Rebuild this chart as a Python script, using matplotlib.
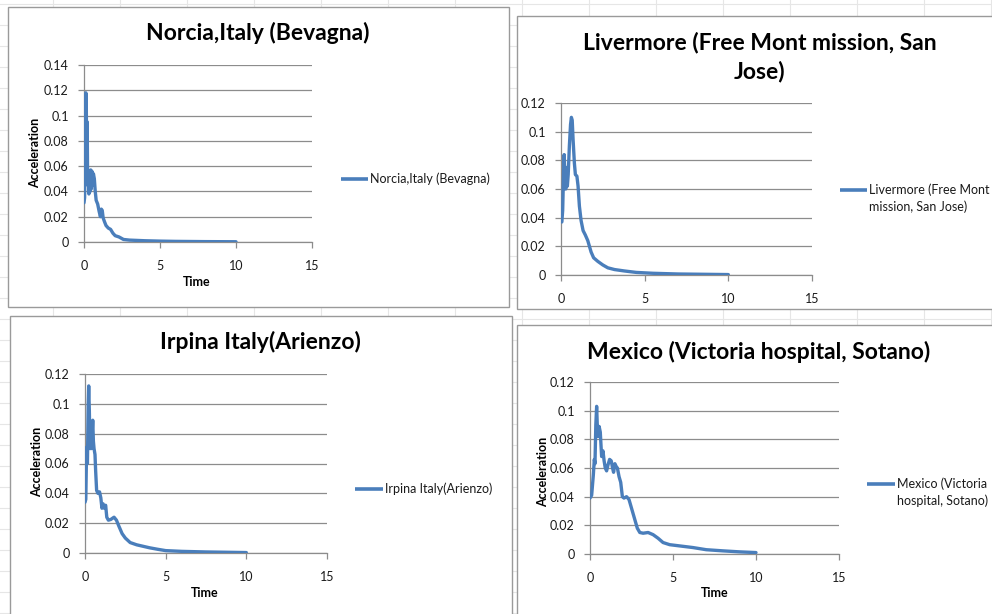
import matplotlib
matplotlib.use("Agg")
import matplotlib.pyplot as plt
from matplotlib.lines import Line2D
from matplotlib.patches import Rectangle
from matplotlib.ticker import FuncFormatter, MultipleLocator

# ---- series data -------------------------------------------------------
time_norcia = [0.00, 0.04, 0.08, 0.12, 0.15, 0.18, 0.21, 0.24, 0.28, 0.32,
               0.36, 0.40, 0.44, 0.48, 0.52, 0.56, 0.62, 0.68, 0.74, 0.80,
               0.90, 1.00, 1.08, 1.14, 1.20, 1.26, 1.35, 1.45, 1.60, 1.75,
               1.90, 2.05, 2.30, 2.60, 3.00, 4.00, 5.00, 6.00, 8.00, 10.0]
acc_norcia = [0.031, 0.035, 0.070, 0.118, 0.110, 0.060, 0.095, 0.045, 0.055, 0.038,
              0.052, 0.040, 0.057, 0.042, 0.056, 0.045, 0.054, 0.050, 0.040, 0.033,
              0.030, 0.024, 0.020, 0.026, 0.025, 0.019, 0.016, 0.013, 0.011, 0.010,
              0.007, 0.005, 0.004, 0.002, 0.0015, 0.001, 0.0007, 0.0005, 0.0003, 0.0002]

time_livermore = [0.00, 0.05, 0.10, 0.15, 0.19, 0.23, 0.28, 0.33, 0.38, 0.43,
                  0.50, 0.57, 0.62, 0.67, 0.72, 0.80, 0.86, 0.95, 1.02, 1.10,
                  1.20, 1.32, 1.45, 1.60, 1.70, 1.80, 1.95, 2.20, 2.50, 2.80,
                  3.20, 3.80, 4.50, 5.50, 7.00, 8.50, 10.0]
acc_livermore = [0.038, 0.037, 0.045, 0.070, 0.084, 0.070, 0.060, 0.075, 0.062, 0.070,
                 0.090, 0.105, 0.110, 0.108, 0.095, 0.078, 0.070, 0.069, 0.062, 0.048,
                 0.038, 0.031, 0.028, 0.024, 0.020, 0.016, 0.012, 0.0095, 0.007, 0.005,
                 0.0038, 0.0028, 0.0018, 0.0012, 0.0007, 0.0005, 0.0003]

time_irpina = [0.00, 0.05, 0.10, 0.15, 0.20, 0.23, 0.27, 0.31, 0.35, 0.39,
               0.44, 0.48, 0.52, 0.56, 0.62, 0.66, 0.72, 0.80, 0.90, 0.98,
               1.05, 1.12, 1.20, 1.28, 1.35, 1.45, 1.60, 1.80, 1.95, 2.10,
               2.30, 2.50, 2.80, 3.20, 3.60, 4.00, 4.50, 5.00, 6.00, 7.50, 10.0]
acc_irpina = [0.034, 0.036, 0.071, 0.060, 0.100, 0.112, 0.095, 0.070, 0.082, 0.070,
              0.080, 0.089, 0.075, 0.070, 0.066, 0.055, 0.042, 0.040, 0.041, 0.037,
              0.030, 0.033, 0.030, 0.032, 0.024, 0.022, 0.0225, 0.024, 0.022, 0.018,
              0.013, 0.010, 0.007, 0.0055, 0.0045, 0.0035, 0.0025, 0.0016, 0.0011, 0.0007, 0.0003]

time_mexico = [0.00, 0.10, 0.20, 0.26, 0.30, 0.35, 0.40, 0.45, 0.50, 0.55,
               0.62, 0.70, 0.78, 0.85, 0.92, 1.00, 1.08, 1.18, 1.28, 1.36,
               1.42, 1.50, 1.58, 1.65, 1.75, 1.85, 1.95, 2.05, 2.20, 2.35,
               2.50, 2.70, 2.85, 3.00, 3.20, 3.50, 3.80, 4.10, 4.40, 4.80,
               5.50, 6.20, 7.00, 8.00, 9.00, 10.0]
acc_mexico = [0.039, 0.041, 0.055, 0.066, 0.063, 0.090, 0.103, 0.086, 0.082, 0.089,
              0.085, 0.068, 0.072, 0.065, 0.060, 0.058, 0.062, 0.066, 0.065, 0.060,
              0.057, 0.063, 0.061, 0.060, 0.054, 0.050, 0.040, 0.039, 0.040, 0.038,
              0.032, 0.024, 0.018, 0.015, 0.0145, 0.015, 0.0135, 0.011, 0.008, 0.0065,
              0.0055, 0.0045, 0.003, 0.0022, 0.0015, 0.001]

titles = ["Norcia,Italy (Bevagna)",
          "Livermore (Free Mont mission, San\nJose)",
          "Irpina Italy(Arienzo)",
          "Mexico (Victoria hospital, Sotano)"]
legend_labels = ["Norcia,Italy (Bevagna)",
                 "Livermore (Free Mont\nmission, San Jose)",
                 "Irpina Italy(Arienzo)",
                 "Mexico (Victoria\nhospital, Sotano)"]
y_max = [0.14, 0.12, 0.12, 0.12]
x_ticks = [0, 5, 10, 15]
x_label = "Time"
y_label = "Acceleration"

# ---- page setup --------------------------------------------------------
W, H = 992, 614
FONT = "Lato"
LINE = "#4A7EBB"
GRID = "#8C8C8C"
plt.rcParams["font.family"] = [FONT, "DejaVu Sans"]

fig = plt.figure(figsize=(W / 100, H / 100), dpi=100)
fig.patch.set_facecolor("white")


def fx(x):
    return x / W


def fy(y):
    return 1 - y / H


# faint worksheet cell lines behind the chart objects
for gx in range(53, W, 67):
    fig.add_artist(Line2D([fx(gx)] * 2, [0, 1], color="#e6e6e6", lw=0.8, zorder=-5))
for gy in range(4, H, 21):
    fig.add_artist(Line2D([0, 1], [fy(gy)] * 2, color="#e6e6e6", lw=0.8, zorder=-5))

# chart object frames (left, top, right, bottom in pixels)
frames = [(8, 7, 509, 307), (517, 16, 1000, 309),
          (10, 316, 512, 620), (517, 325, 1000, 620)]
for l, t, r, b in frames:
    fig.add_artist(Rectangle((fx(l), fy(b)), fx(r - l), (b - t) / H,
                             facecolor="white", edgecolor="#9a9a9a", lw=1.0,
                             zorder=-2))

# plot areas (left, top, right, bottom in pixels)
plot_boxes = [(84, 65, 312, 242), (561, 103, 812, 275),
              (85, 374, 327, 553), (590, 382, 839, 554)]
series = [(time_norcia, acc_norcia), (time_livermore, acc_livermore),
          (time_irpina, acc_irpina), (time_mexico, acc_mexico)]

fmt = FuncFormatter(lambda v, _: "0" if abs(v) < 1e-12 else f"{v:g}")

for (l, t, r, b), (tx, ay), ymax in zip(plot_boxes, series, y_max):
    ax = fig.add_axes([fx(l), fy(b), (r - l) / W, (b - t) / H])
    ax.set_facecolor("white")
    ax.plot(tx, ay, color=LINE, lw=2.4, solid_joinstyle="round",
            solid_capstyle="round", zorder=3)
    ax.set_xlim(0, 15)
    ax.set_ylim(0, ymax)
    ax.set_xticks(x_ticks)
    ax.yaxis.set_major_locator(MultipleLocator(0.02))
    ax.yaxis.set_major_formatter(fmt)
    ax.xaxis.set_major_formatter(fmt)
    ax.yaxis.grid(True, color=GRID, lw=0.9)
    ax.set_axisbelow(True)
    for side in ("top", "right"):
        ax.spines[side].set_visible(False)
    for side in ("left", "bottom"):
        ax.spines[side].set_color(GRID)
        ax.spines[side].set_linewidth(0.9)
    ax.tick_params(axis="both", direction="out", length=4, width=0.9,
                   color=GRID, labelsize=9, labelcolor="#1a1a1a")
    ax.tick_params(axis="y", pad=7)
    ax.tick_params(axis="x", pad=9)
    for lab in ax.get_xticklabels() + ax.get_yticklabels():
        lab.set_fontfamily(FONT)

# chart titles
title_pos = [(258, 33), (760, 57), (260, 342), (759, 352)]
for (x, y), text in zip(title_pos, titles):
    fig.text(fx(x), fy(y), text, ha="center", va="center", fontsize=16.5,
             fontweight="bold", color="black", linespacing=1.45)

# axis titles
for x, y in [(35, 153), (37, 462), (543, 472)]:
    fig.text(fx(x), fy(y), y_label, ha="center", va="center", rotation=90,
             fontsize=9, fontweight="bold", color="black")
for x, y in [(197, 282), (205, 593), (715, 593)]:
    fig.text(fx(x), fy(y), x_label, ha="center", va="center",
             fontsize=9, fontweight="bold", color="black")

# legend entries: sample line + label
legend_pos = [(341, 368, 179), (840, 867, 190), (355, 383, 489), (867, 895, 484)]
for (x0, x1, y), label in zip(legend_pos, legend_labels):
    fig.add_artist(Line2D([fx(x0), fx(x1)], [fy(y)] * 2, color=LINE, lw=2.6,
                          solid_capstyle="butt"))
    for i, line in enumerate(label.split("\n")):
        fig.text(fx(x1 + 2), fy(y + 16.5 * i), line, ha="left", va="center",
                 fontsize=9, color="#1a1a1a")

fig.savefig("out.png", dpi=100, facecolor="white")
